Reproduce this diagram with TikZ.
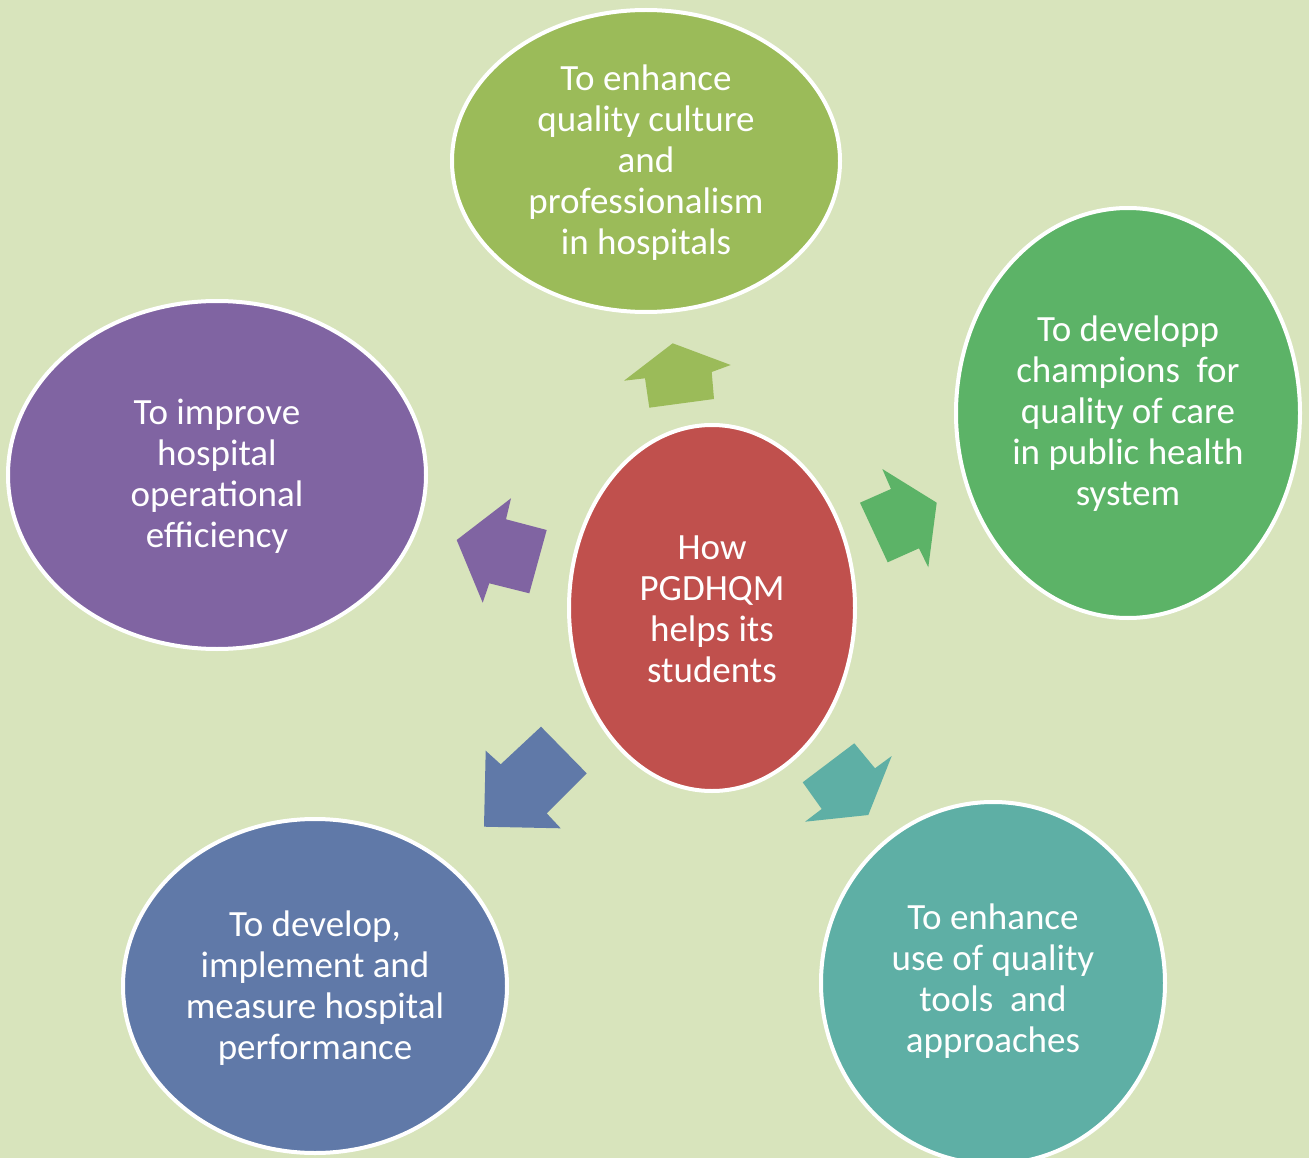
\documentclass[tikz,border=0pt]{standalone}
\usepackage{fontspec}
\setmainfont{Carlito}
\definecolor{bg}{RGB}{216,228,188}
\definecolor{cgreenA}{RGB}{155,187,89}
\definecolor{cgreenB}{RGB}{92,179,103}
\definecolor{cpurple}{RGB}{128,100,162}
\definecolor{cred}{RGB}{192,80,77}
\definecolor{cblue}{RGB}{96,121,168}
\definecolor{cteal}{RGB}{94,175,165}
\begin{document}
\begin{tikzpicture}[x=1pt,y=-1pt,
  bubble/.style={draw=white,line width=4pt},
  label/.style={text=white,align=center,inner sep=0pt,font=\fontsize{37}{41}\selectfont},
  blockarrow/.style={draw=none}]
\fill[bg] (0,0) rectangle (1309,1158);
\useasboundingbox (0,0) rectangle (1309,1158);
% bubbles
\draw[bubble,fill=cgreenA] (646,161) ellipse [x radius=194,y radius=151];
\draw[bubble,fill=cgreenB] (1128,413) ellipse [x radius=172,y radius=205];
\draw[bubble,fill=cpurple] (217,475) ellipse [x radius=209,y radius=174];
\draw[bubble,fill=cred] (712,608) ellipse [x radius=143,y radius=183];
\draw[bubble,fill=cblue] (315,986) ellipse [x radius=192,y radius=167];
\draw[bubble,fill=cteal] (993,983) ellipse [x radius=172,y radius=181];
% labels
\node[label] (top) at (646,163) {To enhance\\quality culture\\and\\professionalism\\in hospitals};
\node[label] (right) at (1128,414) {To developp\\champions\ \ for\\quality of care\\in public health\\system};
\node[label] (left) at (217,476) {To improve\\hospital\\operational\\efficiency};
\node[label] (center) at (712,609) {How\\PGDHQM\\helps its\\students};
\node[label] (bl) at (315,988) {To develop,\\implement and\\measure hospital\\performance};
\node[label] (br) at (993,981) {To enhance\\use of quality\\tools\ \ and\\approaches};
% block arrows
\fill[cgreenA] (672.7,343.3) -- (730.7,365) -- (711.7,372) -- (714,399) -- (649.3,407.7) -- (645,378.3) -- (624,380.7) -- cycle;
\fill[cgreenB] (936.7,502.7) -- (882.3,469) -- (891,489) -- (860,502.7) -- (887.7,562.3) -- (919,548.3) -- (928.3,567.3) -- cycle;
\fill[cpurple] (456.7,540) -- (511,498.3) -- (506,519.3) -- (546.7,530) -- (529.3,593.3) -- (489.3,583.3) -- (482.7,602.7) -- cycle;
\fill[cblue] (484,826.7) -- (560.7,828.3) -- (546.7,813.3) -- (586.7,773.3) -- (541,726.7) -- (500.7,764.3) -- (485.7,750.7) -- cycle;
\fill[cteal] (868.3,815) -- (891.7,756) -- (875,768.3) -- (854.3,743.3) -- (802.7,782.3) -- (821.7,809) -- (805,821.7) -- cycle;
\end{tikzpicture}
\end{document}
